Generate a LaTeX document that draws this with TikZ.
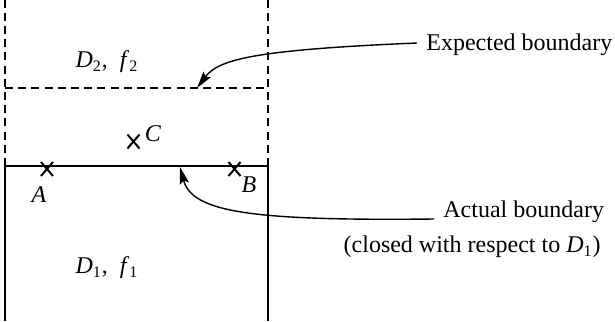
\documentclass[tikz,border=0pt]{standalone}
\usepackage{fontspec}
\setmainfont{Liberation Serif}
\usetikzlibrary{arrows.meta,shapes.misc,positioning}
\tikzset{
  bound/.style={line width=0.75pt},
  dashbound/.style={line width=0.7pt, dash pattern=on 4pt off 2.6pt},
  ptmark/.style={cross out, draw, line width=1pt, minimum width=5pt, minimum height=6pt, inner sep=0pt},
  callout/.style={line width=0.7pt, -{Stealth[length=8.5pt,width=4.6pt,inset=1.5pt]}},
  lbl/.style={font=\fontsize{12}{14}\selectfont, inner sep=0pt},
}
\begin{document}
\begin{tikzpicture}[x=0.5pt, y=-0.5pt]
        \useasboundingbox (0,0) rectangle (615,321);

        % region D1 (closed) and the expected strip above it
        \draw[bound] (5,321) -- (5,166) -- (268,166) -- (268,321);
        \draw[dashbound] (5,166) -- (5,0);
        \draw[dashbound] (268,166) -- (268,0);
        \draw[dashbound] (5,88) -- (268,88);

        \node[lbl] (dtwo) at (107,62) {\textit{D}\textsubscript{2},\ \ \textit{f}\textsubscript{2}};
        \node[lbl] (done) at (107,268) {\textit{D}\textsubscript{1},\ \ \textit{f}\textsubscript{1}};

        % points
        \node[ptmark] (A) at (47,169) {};
        \node[ptmark] (B) at (234.5,169) {};
        \node[ptmark] (C) at (133.5,141.5) {};
        \node[lbl] (labA) at (39,195) {\textit{A}};
        \node[lbl] (labB) at (249,185) {\textit{B}};
        \node[lbl] (labC) at (153,134) {\textit{C}};

        % callouts
        \node[lbl, anchor=west] (exp) at (426,45) {Expected boundary};
        \node[lbl, anchor=west] (act) at (443,212) {Actual boundary};
        \node[lbl, anchor=east] (cls) at (601,247) {(closed with respect to \textit{D}\textsubscript{1})};
        \coordinate (expTip) at (197,88);
        \coordinate (actTip) at (180,167);

        \draw[callout] ([xshift=-4.5pt,yshift=1pt]exp.west) .. controls (250,50) and (218,60) .. (expTip);
        \draw[callout] ([xshift=-4.5pt,yshift=-3.5pt]act.west) .. controls (250,221) and (192,212) .. (actTip);
\end{tikzpicture}
\end{document}
